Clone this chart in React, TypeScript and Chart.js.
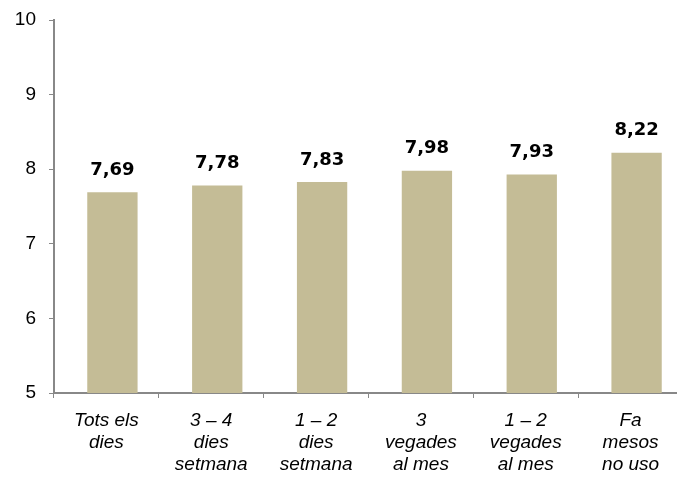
import React, { useEffect, useRef } from "react";
import { Chart, registerables } from "chart.js";

Chart.register(...registerables);

const categories: string[][] = [
  ["Tots els", "dies"],
  ["3 – 4", "dies", "setmana"],
  ["1 – 2", "dies", "setmana"],
  ["3", "vegades", "al mes"],
  ["1 – 2", "vegades", "al mes"],
  ["Fa", "mesos", "no uso"],
];
const values: number[] = [7.69, 7.78, 7.83, 7.98, 7.93, 8.22];
const yMin = 5;
const yMax = 10;
const BAR_SHIFT = 6;

const barShift = {
  id: "barShift",
  beforeDatasetsDraw(chart: any) {
    chart.ctx.save();
    chart.ctx.translate(BAR_SHIFT, 0);
  },
  afterDatasetsDraw(chart: any) {
    chart.ctx.restore();
    const ctx = chart.ctx;
    const meta = chart.getDatasetMeta(0);
    ctx.save();
    ctx.font = "bold 18px 'DejaVu Sans', sans-serif";
    ctx.fillStyle = "#000";
    ctx.textAlign = "center";
    ctx.textBaseline = "middle";
    meta.data.forEach((bar: any, i: number) => {
      const v = values[i].toFixed(2).replace(".", ",");
      ctx.fillText(v, bar.x + BAR_SHIFT, bar.y - 22);
    });
    ctx.restore();
  },
};

export default function App() {
  const ref = useRef<HTMLCanvasElement | null>(null);
  useEffect(() => {
    document.body.style.margin = "0";
    document.body.style.overflow = "hidden";
    const chart = new Chart(ref.current!, {
      type: "bar",
      data: {
        labels: categories,
        datasets: [
          {
            data: values,
            backgroundColor: "#C4BC96",
            barPercentage: 0.48,
            categoryPercentage: 1,
          },
        ],
      },
      plugins: [barShift],
      options: {
        animation: false,
        responsive: false,
        maintainAspectRatio: false,
        layout: { padding: { top: 20, right: 7, left: 0, bottom: 0 } },
        plugins: { legend: { display: false }, tooltip: { enabled: false } },
        scales: {
          x: {
            grid: {
              drawOnChartArea: false,
              drawTicks: true,
              tickLength: 5,
              color: "#888",
            },
            border: { color: "#888", width: 2 },
            ticks: {
              color: "#000",
              maxRotation: 0,
              autoSkip: false,
              padding: 12,
              font: { family: "'Liberation Sans', Arial, sans-serif", size: 19, style: "italic", lineHeight: 1.16 },
            },
            afterFit: (s: any) => {
              s.height = 93;
              s.paddingLeft = 0;
              s.paddingRight = 0;
            },
          },
          y: {
            min: yMin,
            max: yMax,
            grid: {
              drawOnChartArea: false,
              drawTicks: true,
              tickLength: 5,
              color: "#888",
            },
            border: { color: "#888", width: 2 },
            ticks: {
              stepSize: 1,
              color: "#000",
              padding: 13,
              font: { family: "'Liberation Sans', Arial, sans-serif", size: 19 },
            },
            afterFit: (s: any) => {
              s.width = 54;
              s.paddingTop = 0;
              s.paddingBottom = 0;
            },
          },
        },
      },
    });
    return () => chart.destroy();
  }, []);
  return (
    <div style={{ position: "absolute", left: 0, top: 0, width: 677, height: 486, overflow: "hidden" }}>
      <canvas ref={ref} width={690} height={486} style={{ width: 690, height: 486, display: "block" }} />
    </div>
  );
}
